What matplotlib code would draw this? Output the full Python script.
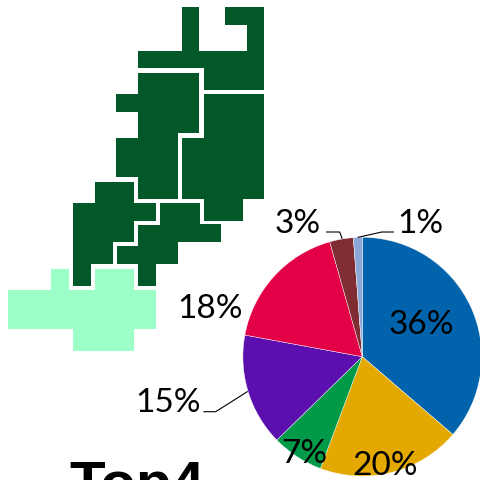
#!/usr/bin/env python3
"""Tile map of regions with a share pie chart."""

import matplotlib
matplotlib.use("Agg")
import matplotlib.pyplot as plt
from matplotlib.patches import Polygon

# pie values, clockwise from the top
pie_values = [36.3, 19.4, 7.0, 15.2, 17.7, 3.2, 1.2]
pie_labels = ["36%", "20%", "7%", "15%", "18%", "3%", "1%"]
pie_colors = ["#0063AC", "#E3A900", "#009A48", "#5A0FAE", "#E40046", "#7F2D32", "#8CA8D8"]
label_xy = [(421, 325), (385, 466), (304, 454), (168, 403), (210, 309), (298, 224), (420, 224)]

DARK = "#03582A"
LIGHT = "#9CFFC8"

# region outlines in image pixels
region_a = [(181.7, 7.3), (199.3, 7.3), (199.3, 50.7), (246.7, 50.7), (246.7, 25), (225.3, 25),
            (225.3, 7.3), (264.3, 7.3), (264.3, 90), (203.7, 90), (203.7, 68.3), (138.3, 68.3),
            (138.3, 50.7), (181.7, 50.7)]
region_b = [(138.3, 72.7), (199.3, 72.7), (199.3, 133.3), (177.7, 133.3), (177.7, 198.7),
            (138.3, 198.7), (138.3, 177), (116.3, 177), (116.3, 137.7), (138.3, 137.7),
            (138.3, 112.3), (116.3, 112.3), (116.3, 94.3), (138.3, 94.3)]
region_c = [(203.7, 94.3), (264.3, 94.3), (264.3, 199), (243, 199), (243, 220.7), (203.7, 220.7),
            (203.7, 199), (182, 199), (182, 137.7), (203.7, 137.7)]
region_d = [(94.7, 181.7), (134, 181.7), (134, 203), (156, 203), (156, 220.7), (134, 220.7),
            (134, 242), (112.7, 242), (112.7, 264.3), (90.7, 264.3), (90.7, 285.7), (73, 285.7),
            (73, 203), (94.7, 203)]
region_e = [(160.3, 203), (199.7, 203), (199.7, 224.3), (221.3, 224.3), (221.3, 242.3), (177.7, 242.3),
            (177.7, 264.3), (156, 264.3), (156, 285.7), (138.3, 285.7), (138.3, 264.3), (116.7, 264.3),
            (116.7, 246.3), (138.3, 246.3), (138.3, 225), (160.3, 225)]
region_f = [(51.3, 268.7), (69, 268.7), (69, 290), (95, 290), (95, 268.7), (134, 268.7), (134, 290),
            (156, 290), (156, 329.3), (134, 329.3), (134, 351), (73.3, 351), (73.3, 329.3),
            (8, 329.3), (8, 290), (51.3, 290)]
dark_regions = [region_a, region_b, region_c, region_d, region_e]

# leader lines for the outside labels
leaders = [
    [(326.7, 232), (339.7, 232), (342, 238.3)],
    [(393.3, 232), (381.7, 232), (358.3, 237.3)],
    [(204, 411.7), (215.7, 411.7), (247.3, 391.7)],
]


def main() -> None:
    plt.rcParams["font.family"] = ["Lato", "DejaVu Sans"]
    fig = plt.figure(figsize=(4.81, 4.80), dpi=100)
    ax = fig.add_axes([0, 0, 1, 1])

    ax.pie(
        pie_values,
        colors=pie_colors,
        center=(362.3, 356.7),
        radius=119.4,
        startangle=-90,
        counterclock=True,
        wedgeprops={"edgecolor": "white", "linewidth": 0.3},
    )
    ax.set_xlim(0, 481)
    ax.set_ylim(480, 0)
    ax.axis("off")
    for patch in ax.patches:
        patch.set_clip_on(True)

    for region in dark_regions:
        ax.add_patch(Polygon(region, closed=True, facecolor=DARK, edgecolor="none"))
    ax.add_patch(Polygon(region_f, closed=True, facecolor=LIGHT, edgecolor="none"))

    for pts in leaders:
        ax.plot([p[0] for p in pts], [p[1] for p in pts], color="black", lw=0.8)

    for text, (x, y) in zip(pie_labels, label_xy):
        ax.text(x, y, text, fontsize=24, color="black", ha="center", va="center")

    # title runs off the bottom edge, same as the source image
    ax.text(69, 502, "Top4", fontsize=42, fontweight="bold", family="Liberation Sans",
            color="black", ha="left", va="baseline", clip_on=True)

    fig.savefig("out.png", dpi=100)
    plt.close(fig)


if __name__ == "__main__":
    main()
